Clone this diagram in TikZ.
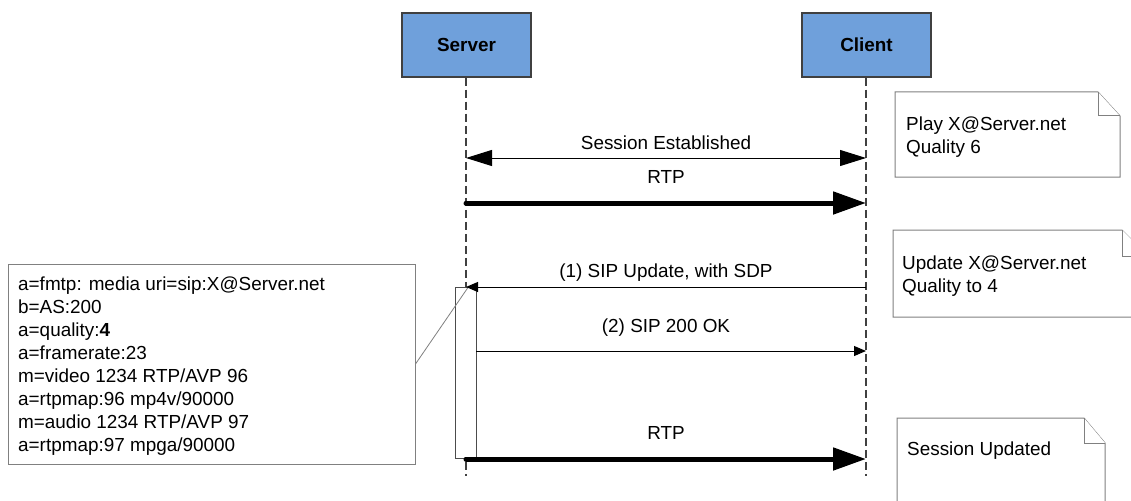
\documentclass[tikz,border=0pt]{standalone}
\usepackage{fontspec}
\setmainfont{Liberation Sans}
\usepackage{tikz}
\usetikzlibrary{arrows.meta}

\definecolor{actorblue}{RGB}{111,160,219}
\definecolor{notegray}{RGB}{128,128,128}

\tikzset{
  actor/.style={draw=black!75, line width=1.5pt, fill=actorblue,
    minimum width=129pt, minimum height=64pt, inner sep=0pt,
    font=\fontsize{18.9}{22}\selectfont\bfseries},
  lifeline/.style={draw=black!75, line width=1.1pt, dash pattern=on 8pt off 4pt},
  msg/.style={line width=1pt, -{Triangle[length=12pt,width=10pt]}},
  both/.style={line width=1pt, {Triangle[length=26pt,width=16pt]}-{Triangle[length=26pt,width=16pt]}},
  rtp/.style={line width=5pt, line cap=round, -{Triangle[length=33pt,width=22pt]}},
  lbl/.style={anchor=base, inner sep=0pt, font=\fontsize{18.9}{22}\selectfont},
  notetext/.style={anchor=north west, inner sep=0pt, align=left,
    font=\fontsize{18.9}{22.9}\selectfont},
  notebox/.style={draw=notegray, line width=1pt, fill=white}
}

\begin{document}
\begin{tikzpicture}[x=1pt, y=-1pt]
        \clip (0,0) rectangle (1131,500);
        \fill[white] (0,0) rectangle (1131,500);

        % Draw actors
        \node[actor] (server) at (466.5, 45) {Server};
        \node[actor] (client) at (866.5, 45) {Client};

        % Draw lifelines
        \coordinate (sEnd) at (466, 476);
        \coordinate (cEnd) at (866, 476);
        \draw[lifeline] (server.south -| sEnd) -- (sEnd);
        \draw[lifeline] (client.south -| cEnd) -- (cEnd);

        % Draw activation
        \node[draw=black!70, line width=1pt, fill=white, minimum width=21pt,
              minimum height=171pt, inner sep=0pt] (act) at (465.5, 372.5) {};

        % Draw notes
        \draw[notebox] (895,92) -- (1098,92) -- (1120,116) -- (1120,177) -- (895,177) -- cycle;
        \draw[notebox] (1098,92) -- (1098,116) -- (1120,116);
        \node[notetext] (play) at (906,117) {Play X@Server.net\\Quality 6};

        \draw[notebox] (893,230) -- (1122,230) -- (1148,256) -- (1148,317) -- (893,317) -- cycle;
        \draw[notebox] (1122,230) -- (1122,256) -- (1148,256);
        \node[notetext] (update) at (902,256) {Update X@Server.net\\Quality to 4};

        \draw[notebox] (897,418) -- (1084,418) -- (1105,443) -- (1105,520) -- (897,520) -- cycle;
        \draw[notebox] (1084,418) -- (1084,443) -- (1105,443);
        \node[notetext] (updated) at (907,442) {Session Updated};

        % Draw SDP box
        \node[draw=notegray, line width=1pt, fill=white, minimum width=407pt,
              minimum height=200pt, inner sep=0pt] (sdp) at (211.5, 364) {};
        \node[notetext] (sdptext) at (18,277) {a=fmtp: media uri=sip:X@Server.net\\
          b=AS:200\\
          a=quality:\textbf{4}\\
          a=framerate:23\\
          m=video 1234 RTP/AVP 96\\
          a=rtpmap:96 mp4v/90000\\
          m=audio 1234 RTP/AVP 97\\
          a=rtpmap:97 mpga/90000};
        \coordinate (sdpTip) at (469, 286);
        \draw[notegray, line width=0.8pt] (sdp.east) -- (sdpTip);

        % Draw messages
        \coordinate (s1) at (466, 158);
        \coordinate (c1) at (866, 158);
        \draw[both] (s1) -- (c1);
        \node[lbl] (l1) at (666, 149) {Session Established};

        \coordinate (s2) at (466, 203);
        \coordinate (c2) at (866, 203);
        \draw[rtp] (s2) -- (c2);
        \node[lbl] (l2) at (666, 183) {RTP};

        \coordinate (s3) at (466, 287);
        \coordinate (c3) at (866, 287);
        \draw[msg] (c3) -- (s3);
        \node[lbl] (l3) at (666, 277) {(1) SIP Update, with SDP};

        \coordinate (s4) at (476, 351);
        \coordinate (c4) at (866, 351);
        \draw[msg] (s4) -- (c4);
        \node[lbl] (l4) at (666, 332) {(2) SIP 200 OK};

        \coordinate (s5) at (466, 459);
        \coordinate (c5) at (866, 459);
        \draw[rtp] (s5) -- (c5);
        \node[lbl] (l5) at (666, 439) {RTP};
\end{tikzpicture}
\end{document}
